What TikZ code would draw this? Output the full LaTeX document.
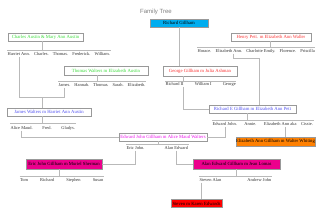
\documentclass[tikz,border=0pt]{standalone}
\usepackage{fontspec}
\setmainfont{Liberation Serif}
\newfontfamily\titlefont{Liberation Sans}
\usetikzlibrary{positioning}
\definecolor{kingreen}{RGB}{60,220,60}
\definecolor{kinred}{RGB}{250,50,50}
\definecolor{kinblue}{RGB}{80,80,240}
\definecolor{kinpink}{RGB}{235,20,235}
\definecolor{boxorange}{RGB}{255,128,0}

\begin{document}
\begin{tikzpicture}[x=0.05cm, y=-0.05cm,
  couple/.style={draw=gray!80, line width=0.7pt, fill=white, inner sep=0pt, font=\fontsize{6.7}{7}\selectfont},
  kid/.style={inner sep=0.6pt, text height=4.6pt, text depth=1.3pt, font=\fontsize{6.3}{7}\selectfont, text=black!80},
  link/.style={draw=gray!55, line width=0.6pt}]
\useasboundingbox (0,0) rectangle (320,213);
\node[font=\titlefont\fontsize{8.6}{10}\selectfont, text=gray] (title) at (156,12) {Family Tree};

\node[couple, fill=cyan, minimum width=2.9cm, minimum height=0.4cm] (richard) at (179,23) {Richard Gillham};
\node[couple, text=kingreen, minimum width=3.75cm, minimum height=0.4cm] (austin) at (45.5,37) {Charles Austin \& Mary Ann Austin};
\node[couple, text=kinred, minimum width=4cm, minimum height=0.4cm] (pett) at (271,37) {Henry Pett. m Elizabeth Ann Waller};
\node[couple, text=kingreen, minimum width=4.2cm, minimum height=0.45cm] (walters) at (106,70.5) {Thomas Walters m Elizabeth Austin};
\node[couple, text=kinred, minimum width=3.7cm, minimum height=0.5cm] (george) at (200,71) {George Gillham m Julia Ashman};
\node[couple, text=kinblue, minimum width=4.2cm, minimum height=0.4cm] (jwalters) at (49,112) {James Walters m Harriet Ann Austin};
\node[couple, text=kinblue, minimum width=4.35cm, minimum height=0.4cm] (riche) at (252.5,109) {Richard E Gillham m Elizabeth Ann Pett};
\node[couple, text=kinpink, minimum width=4.4cm, minimum height=0.4cm] (edward) at (163,137) {Edward John Gillham m Alice Maud Walters};
\node[couple, fill=boxorange, minimum width=3.95cm, minimum height=0.45cm] (whiting) at (275.5,141.5) {Elizabeth Ann Gillham m Walter Whiting};
\node[couple, fill=magenta, minimum width=3.8cm, minimum height=0.5cm] (eric) at (64,164) {Eric John Gillham m Muriel Sherman};
\node[couple, fill=magenta, minimum width=4.35cm, minimum height=0.5cm] (alan) at (236.5,164) {Alan Edward Gillham m Jean Lomas};
\node[couple, fill=red, minimum width=2.55cm, minimum height=0.4cm] (steven) at (196.5,203.5) {Steven m Karen Edwards};

\node[kid, anchor=west] (a1) at (7,54) {Harriet Ann.};
\node[kid, right=0.15cm of a1] (a2) {Charles.};
\node[kid, right=0.15cm of a2] (a3) {Thomas.};
\node[kid, right=0.15cm of a3] (a4) {Frederick.};
\node[kid, right=0.15cm of a4] (a5) {William.};

\node[kid, anchor=west] (p1) at (197,51) {Horace.};
\node[kid, right=0.15cm of p1] (p2) {Elizabeth Ann.};
\node[kid, right=0.15cm of p2] (p3) {Charlotte Emily.};
\node[kid, right=0.15cm of p3] (p4) {Florence.};
\node[kid, right=0.15cm of p4] (p5) {Priscilla};

\node[kid, anchor=west] (w1) at (58,85) {James.};
\node[kid, right=0.14cm of w1] (w2) {Hannah.};
\node[kid, right=0.14cm of w2] (w3) {Thomas.};
\node[kid, right=0.14cm of w3] (w4) {Sarah.};
\node[kid, right=0.14cm of w4] (w5) {Elizabeth.};

\node[kid, anchor=west] (g1) at (165,84) {Richard II};
\node[kid, right=0.5cm of g1] (g2) {William I};
\node[kid, right=0.5cm of g2] (g3) {George};

\node[kid, anchor=west] (j1) at (10,128) {Alice Maud.};
\node[kid, right=0.43cm of j1] (j2) {Fred.};
\node[kid, right=0.43cm of j2] (j3) {Gladys.};

\node[kid, anchor=west] (r1) at (212,124) {Edward John.};
\node[kid, right=0.32cm of r1] (r2) {Annie.};
\node[kid, right=0.32cm of r2] (r3) {Elizabeth Ann aka\quad Cissie.};

\node[kid, anchor=west] (e1) at (126,148) {Eric John.};
\node[kid, right=0.95cm of e1] (e2) {Alan Edward};

\node[kid, anchor=west] (t1) at (19.5,180) {Tom};
\node[kid, right=0.55cm of t1] (t2) {Richard};
\node[kid, right=0.55cm of t2] (t3) {Stephen};
\node[kid, right=0.55cm of t3] (t4) {Susan};

\node[kid, anchor=west] (s1) at (199,180) {Steven Alan};
\node[kid, right=1.25cm of s1] (s2) {Andrew John};

\coordinate (aj) at (42,50);
\coordinate (pj) at (270,47);
\coordinate (wj) at (97,81);
\coordinate (gj) at (183,81);
\coordinate (jj) at (42,123);
\coordinate (rj) at (247,120);
\coordinate (ej) at (158,144);
\coordinate (tj) at (59,176);
\coordinate (sj) at (236,176);
\coordinate (hj) at (42,97);
\coordinate (pbend) at (259,58);

\draw[link] (austin.south -| aj) -- (aj);
\draw[link] (a1.west |- aj) -- (a5.east |- aj);
\draw[link] (pett.south -| pj) -- (pj);
\draw[link] (p1.west |- pj) -- (p5.east |- pj);
\draw[link] (walters.south -| wj) -- (wj);
\draw[link] (w1.west |- wj) -- (w5.east |- wj);
\draw[link] (george.south -| gj) -- (gj);
\draw[link] (g1.west |- gj) -- (g3.east |- gj);
\draw[link] (jwalters.south -| jj) -- (jj);
\draw[link] (j1.west |- jj) -- (j3.east |- jj);
\draw[link] (riche.south -| rj) -- (rj);
\draw[link] (r1.west |- rj) -- (r3.east |- rj);
\draw[link] (edward.south -| ej) -- (ej);
\draw[link] (e1.west |- ej) -- (e2.east |- ej);
\draw[link] (eric.south -| tj) -- (tj);
\draw[link] (t1.west |- tj) -- (t4.east |- tj);
\draw[link] (alan.south -| sj) -- (sj);
\draw[link] (s1.west |- sj) -- (s2.east |- sj);

\draw[link] (richard.south) -- (richard.south |- george.north);
\draw[link] (a1.south) |- (hj) -- (hj |- jwalters.north);
\draw[link] (w1.south) |- (hj);
\draw[link] ([xshift=0.2cm]p2.south) |- (pbend) -- (pbend |- riche.north);
\draw[link] ([xshift=-0.05cm]g1.south east) |- (riche.west);
\draw[link] (j1.south) |- (edward.west);
\draw[link] (r1.south) |- (edward.east);
\draw[link] ([xshift=-0.15cm]r3.south) -- ([xshift=-0.15cm]r3.south |- whiting.north);
\draw[link] (e1.south) |- (eric.east);
\draw[link] (e2.south) |- (alan.west);
\draw[link] ([xshift=0.1cm]s1.south west) -- ([xshift=0.1cm]s1.south west |- steven.north);
\end{tikzpicture}
\end{document}
